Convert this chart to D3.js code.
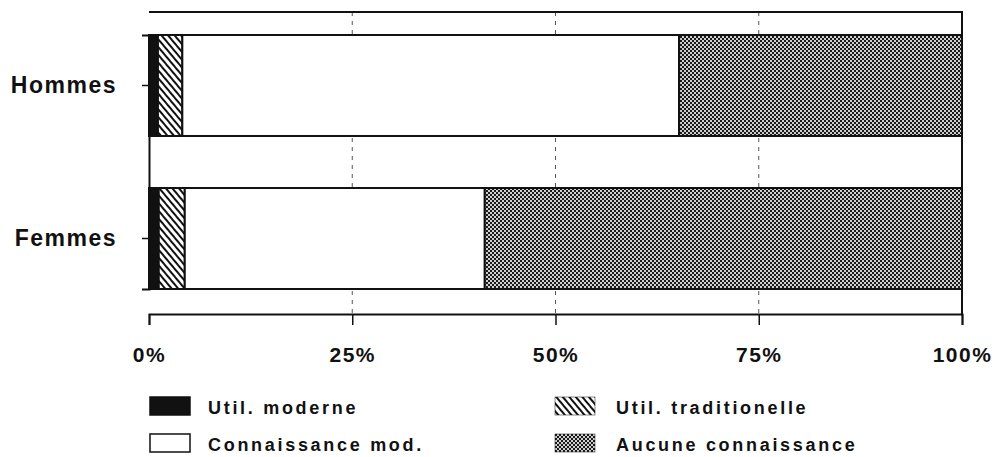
<!DOCTYPE html>
<html lang="fr">
<head>
<meta charset="UTF-8">
<title>Utilisation et connaissance</title>
<script src="https://cdn.jsdelivr.net/npm/d3@7"></script>
<style>
    body { margin: 0; background: #fff; }
    svg { display: block; }
    text {
        font-family: "Liberation Sans", Arial, sans-serif;
        font-weight: bold;
        fill: #111;
    }
    .grid { stroke: #555; stroke-width: 1px; stroke-dasharray: 4 5; }
    .frame { fill: none; stroke: #111; stroke-width: 2px; }
    .bar { stroke: #111; stroke-width: 2px; }
</style>
</head>
<body>
<svg width="1001" height="457"></svg>
<script>

    var groups = ['Hommes', 'Femmes'];
    var categories = ['Util. moderne', 'Util. traditionelle', 'Connaissance mod.', 'Aucune connaissance'];
    var hommes = [1.1, 3.0, 61.1, 34.8];
    var femmes = [1.2, 3.2, 36.9, 58.7];
    var tickValues = [0, 25, 50, 75, 100];
    var tickLabels = ['0%', '25%', '50%', '75%', '100%'];

    var svg = d3.select('svg');
    var defs = svg.append('defs');

    // hatch pattern
    var hatch = defs.append('pattern')
        .attr('id', 'hatch')
        .attr('patternUnits', 'userSpaceOnUse')
        .attr('width', 5).attr('height', 5)
        .attr('patternTransform', 'rotate(-40)');
    hatch.append('rect').attr('width', 5).attr('height', 5).attr('fill', '#fff');
    hatch.append('rect').attr('x', 0).attr('width', 2).attr('height', 5).attr('fill', '#111');

    // checker pattern
    var checker = defs.append('pattern')
        .attr('id', 'checker')
        .attr('patternUnits', 'userSpaceOnUse')
        .attr('width', 4).attr('height', 4);
    checker.append('rect').attr('width', 4).attr('height', 4).attr('fill', '#cfcfcf');
    checker.append('rect').attr('width', 2).attr('height', 2).attr('fill', '#1a1a1a');
    checker.append('rect').attr('x', 2).attr('y', 2).attr('width', 2).attr('height', 2).attr('fill', '#1a1a1a');

    var fills = ['#111', 'url(#hatch)', '#fff', 'url(#checker)'];

    var x = d3.scaleLinear().domain([0, 100]).range([149, 962]);
    var y = d3.scaleBand().domain(groups).range([35, 289]).paddingInner(0.34).paddingOuter(0);

    var stack = [hommes, femmes].map(function (vals, gi) {
        var acc = 0;
        return vals.map(function (v, i) {
            var d = { group: groups[gi], i: i, x0: acc, x1: acc + v };
            acc += v;
            return d;
        });
    });

    // gridlines
    svg.append('g').selectAll('line')
        .data([25, 50, 75])
        .enter().append('line')
        .attr('class', 'grid')
        .attr('x1', function (d) { return x(d); })
        .attr('x2', function (d) { return x(d); })
        .attr('y1', 12).attr('y2', 314);

    // bars
    var barG = svg.append('g');
    stack.forEach(function (row) {
        barG.selectAll(null)
            .data(row)
            .enter().append('rect')
            .attr('class', 'bar')
            .attr('x', function (d) { return x(d.x0); })
            .attr('width', function (d) { return x(d.x1) - x(d.x0); })
            .attr('y', function (d) { return y(d.group); })
            .attr('height', y.bandwidth())
            .attr('fill', function (d) { return fills[d.i]; });
    });

    // frame
    svg.append('path')
        .attr('class', 'frame')
        .attr('d', 'M' + x(0) + ',12H' + x(100) + 'V314');

    // x axis
    var xAxis = d3.axisBottom(x).tickValues(tickValues)
        .tickFormat(function (d, i) { return tickLabels[i]; })
        .tickSize(11).tickPadding(22);
    var gx = svg.append('g')
        .attr('transform', 'translate(0,314)')
        .call(xAxis);
    gx.select('.domain').attr('stroke', '#111').attr('stroke-width', 2);
    gx.selectAll('.tick line').attr('stroke', '#111').attr('stroke-width', 1.5);
    gx.selectAll('.tick text')
        .style('font-size', '21px')
        .style('letter-spacing', '1.5px')
        .attr('fill', '#111');

    // y axis
    var yAxis = d3.axisLeft(y).tickSize(7).tickPadding(25);
    var gy = svg.append('g')
        .attr('transform', 'translate(' + x(0) + ',0)')
        .call(yAxis);
    gy.select('.domain').attr('stroke', '#111').attr('stroke-width', 2);
    gy.selectAll('.tick line').attr('stroke', '#111').attr('stroke-width', 1.5);
    gy.selectAll('.tick text')
        .style('font-size', '23px')
        .style('letter-spacing', '1.5px')
        .attr('fill', '#111');

    // legend
    var legendPos = [[150, 397], [555, 397], [150, 434], [555, 434]];
    var legend = svg.append('g').selectAll('g')
        .data(categories)
        .enter().append('g')
        .attr('transform', function (d, i) {
            return 'translate(' + legendPos[i][0] + ',' + legendPos[i][1] + ')';
        });
    legend.append('rect')
        .attr('width', 40).attr('height', 18)
        .attr('fill', function (d, i) { return fills[i]; })
        .attr('stroke', '#111')
        .attr('stroke-width', function (d, i) { return i === 1 || i === 3 ? 0.5 : 1.5; });
    legend.append('text')
        .attr('x', function (d, i) { return i % 2 === 0 ? 58 : 61; })
        .attr('y', 17)
        .style('font-size', '18px')
        .style('letter-spacing', '2.7px')
        .text(function (d) { return d; });

</script>
</body>
</html>
